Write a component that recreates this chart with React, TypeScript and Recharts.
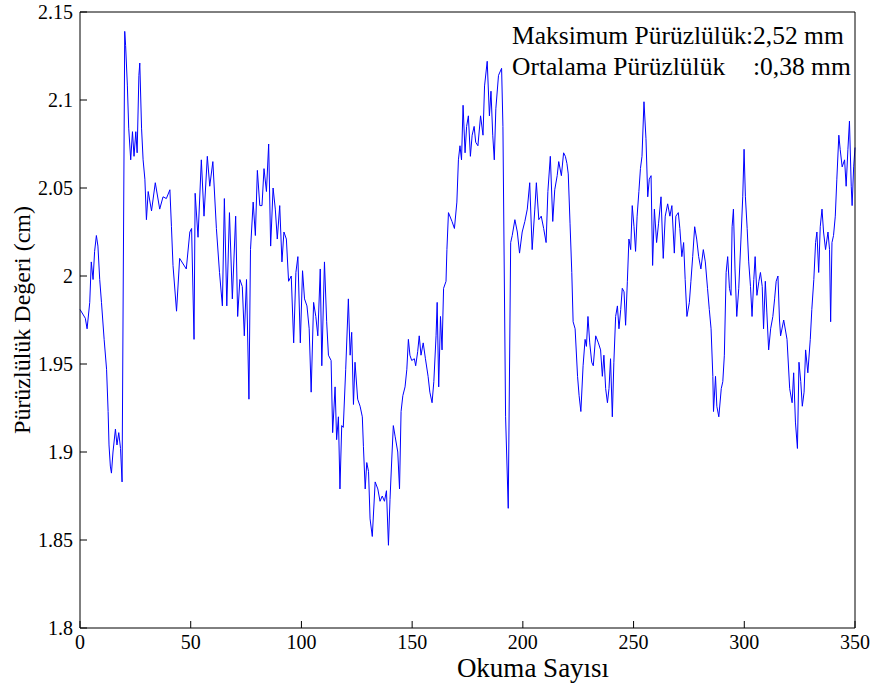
import { Line, LineChart, XAxis, YAxis } from "recharts";

// okuma sayısı (x) and pürüzlülük değeri in cm (y)
const readings = [
  0, 2.4, 3.2, 4.4, 5.1, 5.9, 6.6, 7.4, 8.1, 8.9, 9.7, 10.9, 12, 12.7, 13.1, 13.7, 14.2, 14.9, 16, 16.7,
  17.5, 18.3, 19, 20.2, 20.6, 21.4, 22, 22.9, 23.7, 24.4, 25.2, 25.8, 26.6, 27, 27.8, 28.5, 29.3, 30, 30.8,
  32.3, 34, 36, 37.5, 39, 40.6, 41.3, 42, 43.6, 45, 48, 49.6, 50.4, 51.5, 52, 53.3, 54.8, 56, 57.5, 58.6,
  60, 61.6, 63, 64.3, 65.2, 66.3, 67.5, 68.8, 70.3, 71.2, 72.2, 73.3, 74.2, 75.2, 76.3, 77, 78.2, 79.2,
  80.1, 81.2, 82.2, 83.1, 84.2, 85.2, 86.1, 87.2, 88.2, 89.1, 90.2, 91.2, 92.1, 93.2, 94.2, 95.4, 96.5,
  97.5, 98.4, 99.5, 100.5, 101.4, 102.5, 103.5, 104.4, 105.5, 106.5, 107.4, 108.5, 109.2, 110.4, 111.4,
  112.2, 113.4, 114.1, 115.2, 115.9, 116.7, 117.4, 118.2, 118.9, 120, 121.2, 122, 122.7, 123.5, 124.2,
  125.4, 126.5, 127.5, 128, 128.8, 129.5, 130.3, 131, 132, 133.3, 134.5, 135.5, 136.5, 137.5, 138.4,
  139.3, 140, 140.8, 141.5, 142.3, 143.5, 144.3, 145, 145.8, 146.8, 147.6, 148.3, 149, 149.8, 151, 151.6,
  152.5, 153.2, 154, 155, 156, 157.2, 158, 159, 159.8, 160.8, 161.3, 162, 162.8, 163.5, 164.2, 165.3,
  165.7, 166.4, 168, 169.1, 170.2, 170.9, 171.6, 172.3, 173, 173.9, 174.6, 175.4, 176.3, 177.1, 178,
  178.7, 179.7, 180.9, 182, 182.7, 183.9, 184.9, 185.6, 186.4, 187.1, 187.8, 189, 190.4, 191, 192.2,
  193.4, 194.5, 195.2, 196.4, 197.5, 198.5, 199.7, 200.9, 202, 203.1, 204.2, 205.4, 206.1, 207.2, 208.3,
  209.4, 210.5, 211.3, 212.4, 213.5, 214.4, 215.5, 216.2, 217.4, 218.4, 219.2, 219.9, 220.5, 221.3,
  222.1, 222.7, 223.6, 224.7, 225.4, 226.2, 227.2, 228.1, 228.7, 229.4, 230.2, 231.1, 231.8, 232.9,
  234.1, 235.1, 235.9, 236.6, 237.4, 238.2, 238.9, 239.6, 240.4, 241.1, 241.9, 242.7, 243.4, 244.2,
  244.9, 245.7, 246.4, 247.2, 247.9, 248.7, 249.4, 250.2, 250.9, 251.6, 252.4, 253.1, 253.8, 254.7,
  255.6, 256.4, 257.1, 257.9, 258.6, 259.4, 260.4, 261.3, 262.4, 263.4, 264.3, 265.4, 266.4, 267.3,
  268.4, 269.1, 270.2, 270.9, 271.8, 272.6, 273.3, 274.1, 275.2, 275.9, 276.7, 277.6, 278.5, 279.4,
  280.4, 281.5, 282.4, 283.4, 284.2, 285, 285.8, 286.1, 287, 287.6, 288.5, 289.6, 290.3, 291, 291.8,
  292.5, 293.3, 294, 294.5, 295.1, 295.8, 296.6, 297.5, 298.5, 299.3, 299.9, 300.5, 301.3, 302, 302.8,
  303.5, 304.3, 304.9, 305.7, 306.6, 307.3, 308.1, 308.7, 309.5, 310.2, 311, 311.9, 312.9, 313.7, 314.4,
  315.2, 315.9, 316.4, 317.8, 319.3, 320.5, 321.6, 322.3, 323.1, 324, 324.7, 325.5, 326.2, 327, 327.7,
  328.7, 329.8, 330.5, 331.4, 332.2, 332.8, 333.6, 334.3, 335.1, 335.8, 336.7, 337.8, 338.5, 339, 339.6,
  340.3, 341.1, 341.8, 342.7, 343.3, 344.2, 345.3, 346, 346.8, 347.5, 348.3, 348.7, 349.4, 350,
];

const roughness = [
  1.981, 1.976, 1.97, 1.985, 2.008, 1.998, 2.014, 2.023, 2.017, 1.998, 1.985, 1.964, 1.947, 1.923, 1.904,
  1.892, 1.888, 1.9, 1.913, 1.904, 1.911, 1.902, 1.883, 2.139, 2.131, 2.108, 2.084, 2.066, 2.082, 2.068,
  2.082, 2.07, 2.114, 2.121, 2.084, 2.066, 2.055, 2.032, 2.048,
  2.037, 2.053, 2.038, 2.045, 2.044, 2.049, 2.028, 2.006, 1.98, 2.01, 2.004, 2.025, 2.027, 1.964, 2.047,
  2.022, 2.066, 2.034, 2.068, 2.051, 2.065, 2.027, 2.002, 1.983, 2.044, 1.983, 2.036, 1.987, 2.034, 1.977,
  1.998, 1.994, 1.966, 1.998, 1.93, 2.015, 2.042, 2.023, 2.06, 2.04, 2.04, 2.061, 2.048, 2.075, 2.017,
  2.05, 2.038, 2.021, 2.04, 2.008, 2.025, 2.021, 1.997, 2.0, 1.962, 2.002, 2.011, 1.962, 2.003, 1.987,
  1.983, 1.97, 1.934, 1.985, 1.977, 1.966, 2.004, 1.949, 2.008, 1.974, 1.955, 1.952, 1.911, 1.937, 1.907,
  1.92, 1.879, 1.915, 1.914, 1.947, 1.987, 1.955, 1.968, 1.927, 1.951, 1.93, 1.926, 1.92, 1.903, 1.879,
  1.894, 1.889, 1.862, 1.852, 1.883, 1.879, 1.872, 1.875, 1.872, 1.878, 1.847, 1.873, 1.896, 1.915,
  1.909, 1.9, 1.879, 1.923, 1.932, 1.937, 1.947, 1.964, 1.955, 1.952, 1.953, 1.949, 1.957, 1.966, 1.955,
  1.962, 1.953, 1.943, 1.934, 1.928, 1.94, 1.966, 1.985, 1.937, 1.977, 1.958, 1.993, 1.997, 2.015, 2.036,
  2.031, 2.027, 2.042, 2.066, 2.074, 2.066, 2.097, 2.07, 2.085, 2.091, 2.068, 2.08, 2.085, 2.076, 2.074,
  2.091, 2.08, 2.108, 2.122, 2.091, 2.105, 2.08, 2.066, 2.095, 2.114, 2.118, 2.085, 1.92, 1.868, 2.019,
  2.023, 2.032, 2.025, 2.013, 2.025, 2.031, 2.038, 2.053, 2.015, 2.038, 2.053, 2.032, 2.034, 2.027, 2.019,
  2.048, 2.068, 2.031, 2.049, 2.057, 2.065, 2.057, 2.07, 2.068, 2.064, 2.058, 2.03, 2.002, 1.974, 1.97,
  1.943, 1.932, 1.923, 1.949, 1.964, 1.96, 1.977, 1.962, 1.951, 1.949, 1.966, 1.962, 1.958, 1.943, 1.955,
  1.936, 1.928, 1.936, 1.953, 1.92, 1.951, 1.977, 1.983, 1.97, 1.981, 1.993, 1.991, 1.972, 1.997, 2.021,
  2.015, 2.04, 2.028, 2.014, 2.034, 2.048, 2.061, 2.068, 2.099, 2.078, 2.045, 2.055, 2.057, 2.006, 2.038,
  2.019, 2.03, 2.045, 2.01, 2.034, 2.041, 2.034, 2.04, 2.013, 2.034, 2.036, 2.027, 2.011, 2.019, 1.998,
  1.977, 1.985, 1.997, 2.011, 2.028, 2.021, 2.011, 2.004, 2.015, 2.008, 1.993, 1.981, 1.97, 1.943, 1.923,
  1.943, 1.926, 1.92, 1.936, 1.94, 1.955, 2.002, 2.011, 1.993, 1.989, 2.028, 2.038, 2.004, 1.977, 1.993,
  2.021, 2.045, 2.072, 2.045, 2.027, 2.008, 1.994, 1.977, 1.998, 2.011, 1.989, 1.997, 2.002, 1.994, 1.97,
  1.997, 1.979, 1.958, 1.97, 1.977, 1.987, 1.997, 2.0, 1.975, 1.966, 1.975, 1.964, 1.936, 1.928, 1.945,
  1.917, 1.902, 1.951, 1.94, 1.926, 1.934, 1.958, 1.945, 1.964, 1.981, 1.998, 2.019, 2.025, 2.002, 2.028,
  2.038, 2.025, 2.015, 2.025, 2.015, 1.974, 2.019, 2.023, 2.034, 2.055, 2.08, 2.072, 2.062, 2.066, 2.051,
  2.072, 2.088, 2.051, 2.04, 2.062, 2.073,
];

const xTicks = [0, 50, 100, 150, 200, 250, 300, 350];
const yTicks = [1.8, 1.85, 1.9, 1.95, 2, 2.05, 2.1, 2.15];

const data = readings.map((x, i) => ({ x, y: roughness[i] }));

const serif = '"Liberation Serif", "Times New Roman", serif';
const tickStyle = { fill: "#000", fontSize: 20, fontFamily: serif };
const note = { position: "absolute" as const, fontSize: 25.5, lineHeight: "26px", whiteSpace: "nowrap" as const };

export default function App() {
  return (
    <div style={{ position: "absolute", left: 0, top: 0, width: 873, height: 684, background: "#fff", fontFamily: serif, color: "#000" }}>
      <LineChart width={873} height={684} data={data} margin={{ top: 12, right: 18, bottom: 26, left: 20 }}>
        <XAxis dataKey="x" type="number" domain={[0, 350]} ticks={xTicks} height={30}
          tickSize={-7} tickMargin={14} stroke="#000" tick={tickStyle} />
        <XAxis xAxisId="top" dataKey="x" orientation="top" type="number" domain={[0, 350]} ticks={xTicks}
          height={1} mirror tick={false} tickSize={7} stroke="#000" />
        <YAxis type="number" domain={[1.8, 2.15]} ticks={yTicks} width={60}
          tickSize={-7} tickMargin={14} stroke="#000" tick={tickStyle} />
        <YAxis yAxisId="right" orientation="right" type="number" domain={[1.8, 2.15]} ticks={yTicks}
          width={1} mirror tick={false} tickSize={7} stroke="#000" />
        {/* invisible copy so the mirrored top/right axes close the box */}
        <Line xAxisId="top" yAxisId="right" type="linear" dataKey="y" stroke="none" dot={false}
          activeDot={false} isAnimationActive={false} />
        <Line type="linear" dataKey="y" stroke="#0000ff" strokeWidth={1} dot={false} isAnimationActive={false} />
      </LineChart>

      <div style={{ position: "absolute", left: 533, top: 657, transform: "translateX(-50%)", fontSize: 27, lineHeight: "22px", whiteSpace: "nowrap" }}>
        Okuma Sayısı
      </div>
      <div style={{ position: "absolute", left: 22, top: 320, transform: "translate(-50%, -50%) rotate(-90deg)", fontSize: 24, lineHeight: "24px", whiteSpace: "nowrap" }}>
        Pürüzlülük Değeri (cm)
      </div>

      <div style={{ ...note, left: 512, top: 23 }}>Maksimum Pürüzlülük</div>
      <div style={{ ...note, left: 746, top: 23 }}>:2,52 mm</div>
      <div style={{ ...note, left: 512, top: 54 }}>Ortalama Pürüzlülük</div>
      <div style={{ ...note, left: 753, top: 54 }}>:0,38 mm</div>
    </div>
  );
}
